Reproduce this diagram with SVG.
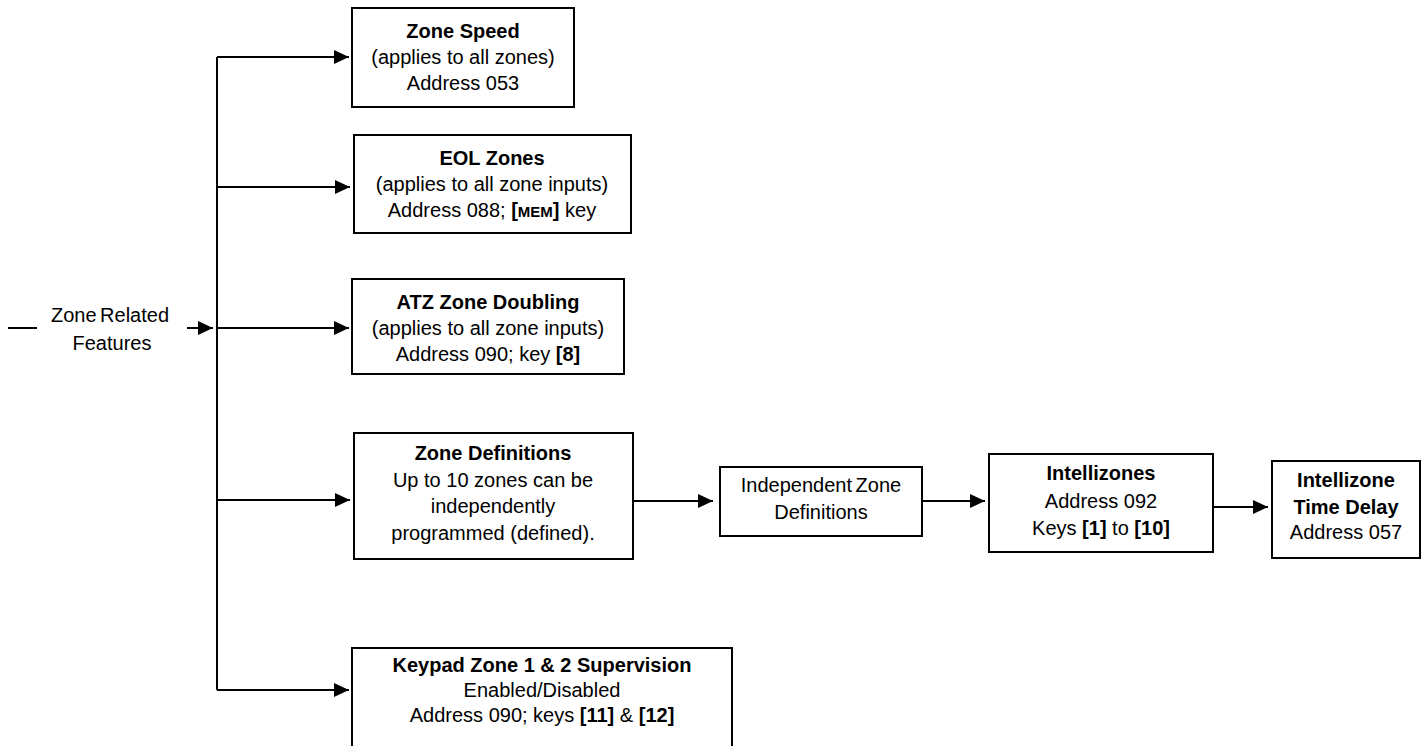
<svg xmlns="http://www.w3.org/2000/svg" width="1425" height="746" viewBox="0 0 1425 746">
<defs>
<style>
.box{fill:#fff;stroke:#000;stroke-width:2}
.ln{fill:none;stroke:#000;stroke-width:2}
text{font-family:"Liberation Sans",Arial,Helvetica,sans-serif;font-size:20px;fill:#000;text-anchor:middle}
.b{font-weight:bold}
.sc{font-size:15px}
</style>
<marker id="ah" markerUnits="userSpaceOnUse" markerWidth="16" markerHeight="14" refX="15" refY="7" orient="auto">
<path d="M0,0 L15,7 L0,14 z" fill="#000"/>
</marker>
</defs>
<g id="connectors">
<path class="ln" d="M8,328 H37"/>
<path class="ln" d="M187,328 H213" marker-end="url(#ah)"/>
<path class="ln" d="M217,57 V690"/>
<path class="ln" d="M217,57 H349" marker-end="url(#ah)"/>
<path class="ln" d="M217,187 H350" marker-end="url(#ah)"/>
<path class="ln" d="M217,328 H349" marker-end="url(#ah)"/>
<path class="ln" d="M217,500 H350" marker-end="url(#ah)"/>
<path class="ln" d="M217,690 H349" marker-end="url(#ah)"/>
<path class="ln" d="M633,501 H713" marker-end="url(#ah)"/>
<path class="ln" d="M922,501 H985" marker-end="url(#ah)"/>
<path class="ln" d="M1213,507 H1268" marker-end="url(#ah)"/>
</g>
<g id="start">
<text x="110" y="322" word-spacing="-2">Zone Related</text>
<text x="112" y="350">Features</text>
</g>
<g id="zone-speed">
<rect class="box" x="352" y="8" width="222" height="99"/>
<text x="463" y="38" class="b">Zone Speed</text>
<text x="463" y="64">(applies to all zones)</text>
<text x="463" y="90">Address 053</text>
</g>
<g id="eol-zones">
<rect class="box" x="354" y="135" width="277" height="98"/>
<text x="492" y="165" class="b">EOL Zones</text>
<text x="492" y="191">(applies to all zone inputs)</text>
<text x="492" y="217">Address 088; <tspan class="b">[<tspan class="sc">MEM</tspan>]</tspan> key</text>
</g>
<g id="atz">
<rect class="box" x="352" y="279" width="272" height="95"/>
<text x="488" y="309" class="b">ATZ Zone Doubling</text>
<text x="488" y="335">(applies to all zone inputs)</text>
<text x="488" y="361">Address 090; key <tspan class="b">[8]</tspan></text>
</g>
<g id="zone-definitions">
<rect class="box" x="354" y="433" width="279" height="126"/>
<text x="493" y="460" class="b">Zone Definitions</text>
<text x="493" y="487">Up to 10 zones can be</text>
<text x="493" y="513">independently</text>
<text x="493" y="540">programmed (defined).</text>
</g>
<g id="independent">
<rect class="box" x="720" y="467" width="202" height="69"/>
<text x="821" y="492" word-spacing="-2">Independent Zone</text>
<text x="821" y="519">Definitions</text>
</g>
<g id="intellizones">
<rect class="box" x="989" y="454" width="224" height="98"/>
<text x="1101" y="480" class="b">Intellizones</text>
<text x="1101" y="508">Address 092</text>
<text x="1101" y="535">Keys <tspan class="b">[1]</tspan> to <tspan class="b">[10]</tspan></text>
</g>
<g id="time-delay">
<rect class="box" x="1272" y="461" width="148" height="97"/>
<text x="1346" y="487" class="b">Intellizone</text>
<text x="1346" y="514" class="b">Time Delay</text>
<text x="1346" y="539">Address 057</text>
</g>
<g id="keypad">
<rect class="box" x="352" y="648" width="380" height="110"/>
<text x="542" y="672" class="b">Keypad Zone 1 &amp; 2 Supervision</text>
<text x="542" y="697">Enabled/Disabled</text>
<text x="542" y="722">Address 090; keys <tspan class="b">[11]</tspan> &amp; <tspan class="b">[12]</tspan></text>
</g>
</svg>
